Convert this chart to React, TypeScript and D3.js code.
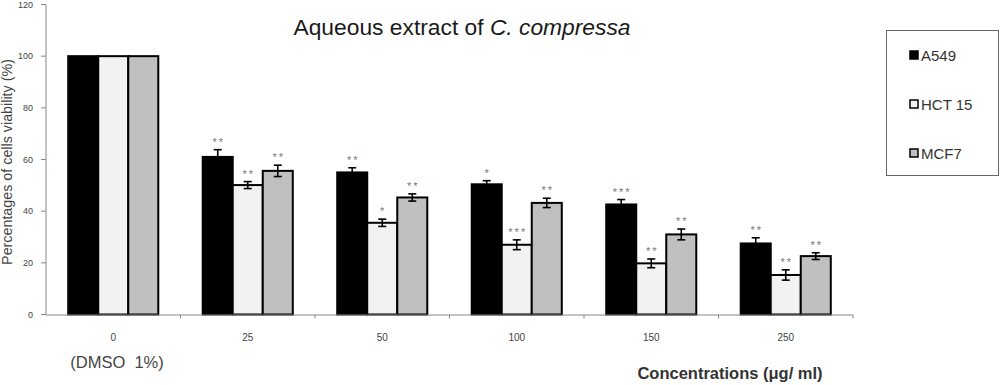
import React, { useEffect, useRef } from 'react';
import * as d3 from 'd3';

const CONCENTRATIONS = ['0', '25', '50', '100', '150', '250'];
const SERIES = ['A549', 'HCT 15', 'MCF7'];
const A549 = [100, 61, 55, 50.4, 42.6, 27.5];
const HCT15 = [100, 50.1, 35.5, 27, 19.8, 15.3];
const MCF7 = [100, 55.6, 45.3, 43.2, 31, 22.6];
const A549_ERR = [0, 2.8, 1.8, 1.4, 1.9, 2.2];
const HCT15_ERR = [0, 1.35, 1.4, 1.9, 1.7, 2];
const MCF7_ERR = [0, 2.2, 1.4, 1.8, 2.1, 1.3];
const A549_SIG = ['', '**', '**', '*', '***', '**'];
const HCT15_SIG = ['', '**', '*', '***', '**', '**'];
const MCF7_SIG = ['', '**', '**', '**', '**', '**'];
const Y_TICKS = [0, 20, 40, 60, 80, 100, 120];

const FILLS = ['#000000', '#f2f2f2', '#c0c0c0'];
const FONT = '"Liberation Sans", Arial, sans-serif';

export default function App() {
  const svgRef = useRef<SVGSVGElement>(null);

  useEffect(() => {
    const width = 1000;
    const height = 385;
    const svg = d3.select(svgRef.current);
    svg.selectAll('*').remove();
    svg.attr('width', width).attr('height', height).style('font-family', FONT);

    const values = [A549, HCT15, MCF7];
    const errs = [A549_ERR, HCT15_ERR, MCF7_ERR];
    const sigs = [A549_SIG, HCT15_SIG, MCF7_SIG];

    const x0 = d3.scaleBand().domain(CONCENTRATIONS).range([46, 853]).paddingInner(0).paddingOuter(0);
    const x1 = d3.scaleBand().domain(SERIES).range([0, x0.bandwidth()]).paddingInner(0).paddingOuter(0.74);
    const y = d3.scaleLinear().domain([0, 120]).range([314.5, 4.5]);

    // Title
    const title = svg.append('text').attr('x', 462).attr('y', 35).attr('text-anchor', 'middle')
      .style('font-size', '22.8px').style('fill', '#1a1a1a');
    title.append('tspan').text('Aqueous extract of ');
    title.append('tspan').style('font-style', 'italic').text('C. compressa');

    // Y axis
    svg.append('line').attr('x1', 46).attr('x2', 46).attr('y1', y(120)).attr('y2', y(0))
      .attr('stroke', '#888').attr('stroke-width', 1);
    Y_TICKS.forEach(t => {
      svg.append('line').attr('x1', 41).attr('x2', 46).attr('y1', y(t)).attr('y2', y(t))
        .attr('stroke', '#888');
      svg.append('text').attr('x', 33).attr('y', y(t) + 3).attr('text-anchor', 'end')
        .style('font-size', '9px').style('fill', '#444').text(t);
    });
    svg.append('text').attr('transform', `translate(12,${162}) rotate(-90)`)
      .attr('text-anchor', 'middle').style('font-size', '14.3px').style('fill', '#444')
      .text('Percentages of cells viability (%)');

    // Bars
    CONCENTRATIONS.forEach((c, i) => {
      SERIES.forEach((s, k) => {
        const bx = x0(c)! + x1(s)!;
        const v = values[k][i];
        svg.append('rect').attr('x', bx).attr('y', y(v)).attr('width', x1.bandwidth())
          .attr('height', y(0) - y(v)).attr('fill', FILLS[k])
          .attr('stroke', '#000').attr('stroke-width', 2);
        const e = errs[k][i];
        if (e > 0) {
          const cx = bx + x1.bandwidth() / 2;
          const g = svg.append('g').attr('stroke', '#000').attr('stroke-width', 1.6);
          g.append('line').attr('x1', cx).attr('x2', cx).attr('y1', y(v + e)).attr('y2', y(v - e));
          g.append('line').attr('x1', cx - 4).attr('x2', cx + 4).attr('y1', y(v + e)).attr('y2', y(v + e));
          g.append('line').attr('x1', cx - 4).attr('x2', cx + 4).attr('y1', y(v - e)).attr('y2', y(v - e));
        }
        const sig = sigs[k][i];
        if (sig) {
          svg.append('text').attr('x', bx + x1.bandwidth() / 2 + 1).attr('y', y(v + e) - 4)
            .attr('text-anchor', 'middle').style('font-size', '11px').style('fill', '#777')
            .style('letter-spacing', '2px').text(sig);
        }
      });
    });

    // X axis
    svg.append('line').attr('x1', 46).attr('x2', 853).attr('y1', y(0) + 0.5).attr('y2', y(0) + 0.5)
      .attr('stroke', '#888').attr('stroke-width', 1);
    CONCENTRATIONS.forEach(c => {
      const bx = x0(c)! + x0.bandwidth();
      svg.append('line').attr('x1', bx).attr('x2', bx).attr('y1', y(0)).attr('y2', y(0) + 4)
        .attr('stroke', '#888');
      svg.append('text').attr('x', x0(c)! + x0.bandwidth() / 2).attr('y', 341)
        .attr('text-anchor', 'middle').style('font-size', '10px').style('fill', '#444').text(c);
    });
    svg.append('text').attr('x', 117).attr('y', 368)
      .attr('text-anchor', 'middle').style('font-size', '16.5px').style('fill', '#444')
      .style('white-space', 'pre').text('(DMSO  1%)');
    svg.append('text').attr('x', 730).attr('y', 379).attr('text-anchor', 'middle')
      .style('font-size', '16.5px').style('font-weight', 'bold').style('fill', '#333')
      .text('Concentrations (μg/ ml)');

    // Legend
    svg.append('rect').attr('x', 886.5).attr('y', 30.5).attr('width', 112).attr('height', 145)
      .attr('fill', '#fff').attr('stroke', '#666').attr('stroke-width', 1);
    SERIES.forEach((s, k) => {
      const ly = 55 + k * 49;
      svg.append('rect').attr('x', 910).attr('y', ly - 4).attr('width', 8).attr('height', 8)
        .attr('fill', FILLS[k]).attr('stroke', '#000').attr('stroke-width', 1.5);
      svg.append('text').attr('x', 921).attr('y', ly + 5.5).style('font-size', '15px')
        .style('fill', '#333').text(s);
    });
  }, []);

  return (
    <div style={{ position: 'fixed', left: 0, top: 0, width: 1000, height: 385, background: 'white' }}>
      <svg ref={svgRef}></svg>
    </div>
  );
}
